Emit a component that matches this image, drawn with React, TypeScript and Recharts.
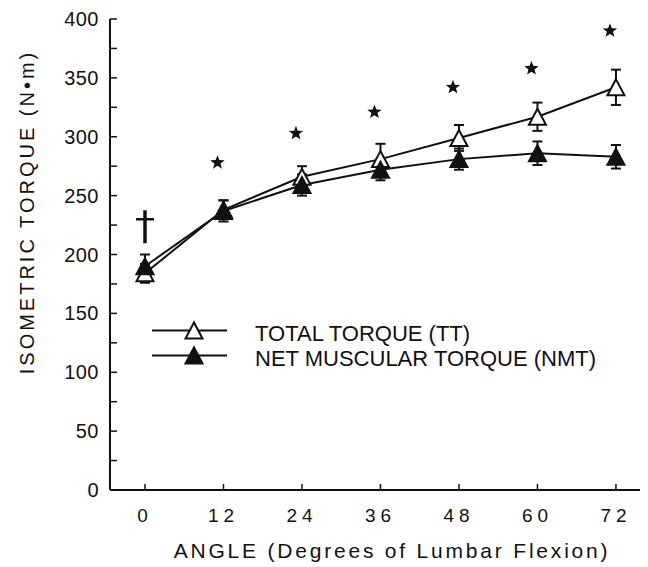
import React from 'react';
import {
  ComposedChart,
  Line,
  Scatter,
  XAxis,
  YAxis,
  ErrorBar,
  Legend,
  Label,
} from 'recharts';

// degrees of lumbar flexion
const angles = [0, 12, 24, 36, 48, 60, 72];
// total torque (TT), N·m, with error
const totalTorque = [184, 238, 266, 281, 299, 317, 342];
const totalErr = [8, 8, 9, 13, 11, 12, 15];
// net muscular torque (NMT), N·m, with error
const netTorque = [190, 237, 259, 272, 281, 286, 283];
const netErr = [10, 9, 9, 9, 9, 10, 10];
// significance markers
const starAngles = [12, 24, 36, 48, 60, 72];
const starHeights = [278, 303, 321, 342, 358, 390];
const daggerAngles = [0];
const daggerHeights = [224];

const xTicks = [0, 12, 24, 36, 48, 60, 72];
const yTicks = [0, 25, 50, 75, 100, 125, 150, 175, 200, 225, 250, 275, 300, 325, 350, 375, 400];

const data = angles.map((a, i) => ({
  angle: a,
  tt: totalTorque[i],
  ttErr: totalErr[i],
  nmt: netTorque[i],
  nmtErr: netErr[i],
}));
const stars = starAngles.map((a, i) => ({ angle: a, mark: starHeights[i] }));
const daggers = daggerAngles.map((a, i) => ({ angle: a, mark: daggerHeights[i] }));

const FONT = '"Liberation Sans", Arial, Helvetica, sans-serif';
const INK = '#111';

function Triangle({ cx, cy, filled }: { cx: number; cy: number; filled: boolean }) {
  const w = 17;
  const h = 16;
  return (
    <polygon
      points={`${cx},${cy - h / 2} ${cx - w / 2},${cy + h / 2} ${cx + w / 2},${cy + h / 2}`}
      fill={filled ? INK : '#fff'}
      stroke={INK}
      strokeWidth={2}
      strokeLinejoin="miter"
    />
  );
}

const openDot = (p: any) =>
  p.cx == null ? null : <Triangle key={`o-${p.index}`} cx={p.cx} cy={p.cy} filled={false} />;
const filledDot = (p: any) =>
  p.cx == null ? null : <Triangle key={`f-${p.index}`} cx={p.cx} cy={p.cy} filled />;

function Star(p: any) {
  const cx = p.cx - 6;
  const cy = p.cy;
  const pts: string[] = [];
  for (let i = 0; i < 10; i++) {
    const r = i % 2 === 0 ? 7.5 : 3.2;
    const a = -Math.PI / 2 + (i * Math.PI) / 5;
    pts.push(`${cx + r * Math.cos(a)},${cy + r * Math.sin(a)}`);
  }
  return <polygon points={pts.join(' ')} fill={INK} />;
}

function Dagger(p: any) {
  const { cx, cy } = p;
  return (
    <g stroke={INK} fill="none">
      <line x1={cx} y1={cy - 16} x2={cx} y2={cy + 17} strokeWidth={3.5} />
      <line x1={cx - 9} y1={cy - 7} x2={cx + 9} y2={cy - 7} strokeWidth={2.5} />
    </g>
  );
}

const legendOrder = ['tt', 'nmt'];

function LegendContent(props: any) {
  const items = (props.payload || [])
    .filter((e: any) => legendOrder.includes(e.dataKey))
    .sort((a: any, b: any) => legendOrder.indexOf(a.dataKey) - legendOrder.indexOf(b.dataKey));
  return (
    <div style={{ fontFamily: FONT, fontSize: 22, color: INK }}>
      {items.map((e: any) => (
        <div key={e.dataKey} style={{ display: 'flex', alignItems: 'center', height: 25 }}>
          <svg width={103} height={25} style={{ flex: 'none' }}>
            <line x1={0} y1={12.5} x2={75} y2={12.5} stroke={INK} strokeWidth={2} />
            <Triangle cx={42} cy={12.5} filled={e.dataKey === 'nmt'} />
          </svg>
          <span style={{ whiteSpace: 'nowrap', lineHeight: '25px', position: 'relative', top: 3 }}>
            {e.value}
          </span>
        </div>
      ))}
    </div>
  );
}

export default function App() {
  return (
    <div style={{ width: 640, height: 559, background: '#fff', position: 'relative' }}>
      <ComposedChart
        width={640}
        height={559}
        data={data}
        margin={{ top: 11, right: 0, bottom: 0, left: 0 }}
      >
        <XAxis
          dataKey="angle"
          type="number"
          domain={[-5.35, 76.9]}
          allowDataOverflow
          ticks={xTicks}
          interval={0}
          height={77}
          tickSize={-6}
          tickMargin={25}
          axisLine={{ stroke: INK, strokeWidth: 2 }}
          tickLine={{ stroke: INK, strokeWidth: 1.5 }}
          tick={{ fill: INK, fontSize: 19, fontFamily: FONT, letterSpacing: 5 }}
        >
          <Label
            content={() => (
              <text
                x={384}
                y={550}
                textAnchor="middle"
                fill={INK}
                fontFamily={FONT}
                fontSize={21}
                letterSpacing={2.8}
              >
                ANGLE (Degrees of Lumbar Flexion)
              </text>
            )}
          />
        </XAxis>
        <YAxis
          type="number"
          domain={[0, 400]}
          ticks={yTicks}
          interval={0}
          width={102}
          tickSize={-7}
          tickMargin={18}
          tickFormatter={(v: number) => (v % 50 === 0 ? String(v) : '')}
          axisLine={{ stroke: INK, strokeWidth: 2 }}
          tickLine={{ stroke: INK, strokeWidth: 1.5 }}
          tick={{ fill: INK, fontSize: 20, fontFamily: FONT, letterSpacing: 0.5 }}
        >
          <Label
            content={() => (
              <text
                x={19}
                y={204}
                transform="rotate(-90 19 204)"
                textAnchor="middle"
                dominantBaseline="central"
                fill={INK}
                fontFamily={FONT}
                fontSize={20}
                letterSpacing={3}
              >
                ISOMETRIC TORQUE (N•m)
              </text>
            )}
          />
        </YAxis>
        <Legend
          content={LegendContent}
          layout="vertical"
          align="center"
          verticalAlign="middle"
          wrapperStyle={{ position: 'absolute', left: 144, top: 310, width: 'auto', height: 'auto' }}
        />
        <Line
          dataKey="tt"
          name="TOTAL TORQUE (TT)"
          stroke={INK}
          strokeWidth={2}
          dot={openDot}
          activeDot={false}
          isAnimationActive={false}
        >
          <ErrorBar dataKey="ttErr" direction="y" width={5} stroke={INK} strokeWidth={2} />
        </Line>
        <Line
          dataKey="nmt"
          name="NET MUSCULAR TORQUE (NMT)"
          stroke={INK}
          strokeWidth={2}
          dot={filledDot}
          activeDot={false}
          isAnimationActive={false}
        >
          <ErrorBar dataKey="nmtErr" direction="y" width={5} stroke={INK} strokeWidth={2} />
        </Line>
        <Scatter
          data={stars}
          dataKey="mark"
          shape={Star}
          legendType="none"
          isAnimationActive={false}
        />
        <Scatter
          data={daggers}
          dataKey="mark"
          shape={Dagger}
          legendType="none"
          isAnimationActive={false}
        />
      </ComposedChart>
    </div>
  );
}
